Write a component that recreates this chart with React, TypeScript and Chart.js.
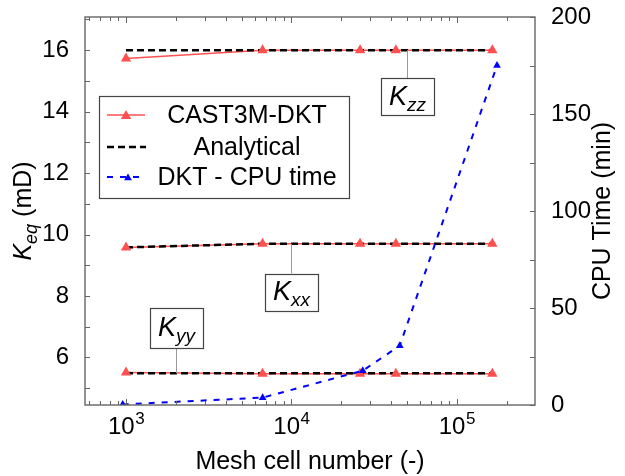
import React, { useEffect, useRef } from 'react';
import { Chart, registerables } from 'chart.js';

Chart.register(...registerables);

// ---------------- data ----------------
const meshCells = [1000, 6690, 26000, 42800, 164000];
const kzzCast3m = [15.73, 16.0, 16.0, 16.0, 16.0];
const kxxCast3m = [9.58, 9.7, 9.7, 9.7, 9.7];
const kyyCast3m = [5.51, 5.47, 5.47, 5.47, 5.47];
const kzzAnalytical = [16.0, 16.0, 16.0, 16.0, 16.0];
const kxxAnalytical = [9.58, 9.7, 9.7, 9.7, 9.7];
const kyyAnalytical = [5.48, 5.48, 5.48, 5.48, 5.48];
const cpuMeshCells = [955, 6700, 27000, 45200, 175000];
const cpuTimeMin = [0.3, 3.8, 17.7, 30.6, 175];

const keqTickLabels = [6, 8, 10, 12, 14, 16];
const cpuTickLabels = [0, 50, 100, 150, 200];
const meshDecades = [1000, 10000, 100000];

const legendLabels = ['CAST3M-DKT', 'Analytical', 'DKT - CPU time'];
const tagSubscripts = ['zz', 'xx', 'yy'];
const tagCells = [50000, 10000, 2000];
const tagKeq = [16, 9.7, 5.48];

// ---------------- styles ----------------
const FONT = "'Liberation Sans', Arial, sans-serif";
const RED = '#ff5050';
const BLUE = '#0000ff';
const FRAME = '#666666';

const pts = (xs: number[], ys: number[]) => xs.map((x, i) => ({ x, y: ys[i] }));

function triangle(ctx: CanvasRenderingContext2D, cx: number, cy: number, r: number, color: string) {
  ctx.beginPath();
  ctx.moveTo(cx, cy - r);
  ctx.lineTo(cx + r * 0.866, cy + r * 0.5);
  ctx.lineTo(cx - r * 0.866, cy + r * 0.5);
  ctx.closePath();
  ctx.fillStyle = color;
  ctx.fill();
}

function drawK(ctx: CanvasRenderingContext2D, x: number, y: number, sub: string, big: number, small: number, drop: number, tail = '') {
  ctx.font = `italic ${big}px ${FONT}`;
  const wK = ctx.measureText('K').width;
  ctx.font = `italic ${small}px ${FONT}`;
  const wS = ctx.measureText(sub).width;
  ctx.font = `${big}px ${FONT}`;
  const wT = tail ? ctx.measureText(tail).width : 0;
  const total = wK + wS + wT;
  let cx = x - total / 2;
  ctx.textAlign = 'left';
  ctx.textBaseline = 'alphabetic';
  ctx.fillStyle = '#000';
  ctx.font = `italic ${big}px ${FONT}`;
  ctx.fillText('K', cx, y);
  cx += wK;
  ctx.font = `italic ${small}px ${FONT}`;
  ctx.fillText(sub, cx, y + drop);
  cx += wS;
  if (tail) {
    ctx.font = `${big}px ${FONT}`;
    ctx.fillText(tail, cx, y);
  }
}

const decorPlugin = {
  id: 'decor',
  afterDraw(chart: any) {
    const ctx: CanvasRenderingContext2D = chart.ctx;
    const { left, right, top, bottom } = chart.chartArea;
    const xs = chart.scales.x;
    const ys = chart.scales.y;
    const y1 = chart.scales.y1;
    ctx.save();

    ctx.strokeStyle = FRAME;
    ctx.lineWidth = 1;
    const line = (a: number, b: number, c: number, d: number) => {
      ctx.beginPath();
      ctx.moveTo(a, b);
      ctx.lineTo(c, d);
      ctx.stroke();
    };
    xs.ticks.forEach((t: any) => {
      const px = Math.round(xs.getPixelForValue(t.value)) + 0.5;
      const len = t.major ? 6 : 4;
      line(px, bottom, px, bottom - len);
      line(px, top, px, top + len);
    });
    for (let v = Math.ceil(ys.min); v <= ys.max; v += 1) {
      const py = Math.round(ys.getPixelForValue(v)) + 0.5;
      line(left, py, left + 5, py);
    }
    for (let v = 0; v <= y1.max; v += 25) {
      const py = Math.round(y1.getPixelForValue(v)) + 0.5;
      line(right, py, right - 5, py);
    }

    ctx.lineWidth = 1.4;
    ctx.strokeRect(left, top, right - left, bottom - top);

    ctx.fillStyle = '#000';
    xs.ticks.filter((t: any) => t.major).forEach((t: any) => {
      const px = xs.getPixelForValue(t.value);
      const exp = String(Math.round(Math.log10(t.value)));
      ctx.font = `24px ${FONT}`;
      const wB = ctx.measureText('10').width;
      ctx.font = `17px ${FONT}`;
      const wE = ctx.measureText(exp).width;
      const x0 = px - (wB + wE) / 2;
      ctx.textAlign = 'left';
      ctx.textBaseline = 'alphabetic';
      ctx.font = `24px ${FONT}`;
      ctx.fillText('10', x0, bottom + 29);
      ctx.font = `17px ${FONT}`;
      ctx.fillText(exp, x0 + wB + 0.5, bottom + 19);
    });

    ctx.font = `25px ${FONT}`;
    ctx.textAlign = 'center';
    ctx.textBaseline = 'alphabetic';
    ctx.fillText('Mesh cell number (-)', (left + right) / 2, 469);

    ctx.save();
    ctx.translate(31, (top + bottom) / 2);
    ctx.rotate(-Math.PI / 2);
    drawK(ctx, 0, 0, 'eq', 25, 18, 6, ' (mD)');
    ctx.restore();

    ctx.save();
    ctx.translate(610, (top + bottom) / 2);
    ctx.rotate(-Math.PI / 2);
    ctx.font = `25px ${FONT}`;
    ctx.textAlign = 'center';
    ctx.fillStyle = '#000';
    ctx.fillText('CPU Time (min)', 0, 0);
    ctx.restore();

    tagSubscripts.forEach((sub, i) => {
      const ax = Math.round(xs.getPixelForValue(tagCells[i])) + 0.5;
      const ay = ys.getPixelForValue(tagKeq[i]);
      const below = i < 2;
      const w = 53;
      const h = i === 2 ? 40 : 37;
      const pin = i === 0 ? 28 : i === 1 ? 30 : 25;
      const boxTop = below ? ay + pin : ay - pin - h;
      ctx.strokeStyle = '#999';
      ctx.lineWidth = 1;
      ctx.beginPath();
      ctx.moveTo(ax, ay);
      ctx.lineTo(ax, below ? boxTop : boxTop + h);
      ctx.stroke();
      ctx.fillStyle = '#fff';
      ctx.fillRect(ax - w / 2, boxTop, w, h);
      ctx.strokeStyle = '#444';
      ctx.lineWidth = 1.2;
      ctx.strokeRect(Math.round(ax - w / 2) + 0.5, Math.round(boxTop) + 0.5, w, h);
      drawK(ctx, ax, boxTop + h / 2 + 8, sub, 27, 19, 6);
    });

    const lx = 99, ly = 96, lw = 250, lh = 102;
    ctx.fillStyle = '#fff';
    ctx.fillRect(lx, ly, lw, lh);
    ctx.strokeStyle = '#444';
    ctx.lineWidth = 1.2;
    ctx.strokeRect(lx + 0.5, ly + 0.5, lw, lh);
    const rows = [115, 147, 177];
    ctx.setLineDash([]);
    ctx.strokeStyle = RED;
    ctx.lineWidth = 1.5;
    line(107, rows[0], 145, rows[0]);
    triangle(ctx, 126, rows[0] + 1, 6, RED);
    ctx.strokeStyle = '#000';
    ctx.lineWidth = 2.5;
    ctx.setLineDash([7, 4]);
    line(107, rows[1], 146, rows[1]);
    ctx.strokeStyle = BLUE;
    ctx.lineWidth = 2;
    ctx.setLineDash([6, 7]);
    line(107, rows[2], 145, rows[2]);
    ctx.setLineDash([]);
    triangle(ctx, 128, rows[2] + 1, 4.5, BLUE);
    ctx.fillStyle = '#000';
    ctx.font = `25px ${FONT}`;
    ctx.textAlign = 'center';
    ctx.textBaseline = 'middle';
    legendLabels.forEach((lab, i) => ctx.fillText(lab, 247, rows[i] + 1));

    ctx.restore();
  },
};

const zeroPad = (s: any) => {
  s.paddingTop = 0;
  s.paddingBottom = 0;
  s.paddingLeft = 0;
  s.paddingRight = 0;
};

export default function App() {
  const ref = useRef<HTMLCanvasElement | null>(null);
  useEffect(() => {
    if (!ref.current) return;
    const castSeries = [kzzCast3m, kxxCast3m, kyyCast3m];
    const anaSeries = [kzzAnalytical, kxxAnalytical, kyyAnalytical];
    const chart = new Chart(ref.current, {
      type: 'line',
      data: {
        datasets: [
          {
            label: legendLabels[2],
            data: pts(cpuMeshCells, cpuTimeMin),
            yAxisID: 'y1',
            borderColor: BLUE,
            backgroundColor: BLUE,
            borderWidth: 2,
            borderDash: [6, 7],
            pointStyle: 'triangle',
            pointRadius: 4.5,
            pointBorderWidth: 0,
            order: 0,
          },
          ...castSeries.map((a) => ({
            label: legendLabels[0],
            data: pts(meshCells, a),
            yAxisID: 'y',
            showLine: false,
            pointStyle: 'triangle',
            pointRadius: 6,
            backgroundColor: RED,
            borderColor: RED,
            pointBorderWidth: 0,
            order: 1,
          })),
          ...anaSeries.map((a) => ({
            label: legendLabels[1],
            data: pts(meshCells, a),
            yAxisID: 'y',
            borderColor: '#000',
            borderWidth: 2.5,
            borderDash: [7, 4],
            pointRadius: 0,
            order: 2,
          })),
          ...castSeries.map((a) => ({
            label: legendLabels[0],
            data: pts(meshCells, a),
            yAxisID: 'y',
            borderColor: RED,
            borderWidth: 1.5,
            pointRadius: 0,
            order: 3,
          })),
        ] as any,
      },
      options: {
        animation: false,
        responsive: false,
        devicePixelRatio: 1,
        layout: { padding: { top: 17, left: 0, right: 0, bottom: 0 } },
        plugins: { legend: { display: false }, tooltip: { enabled: false } },
        elements: { line: { tension: 0 } },
        scales: {
          x: {
            type: 'logarithmic',
            min: 565,
            max: 297000,
            grid: { display: false },
            border: { display: false },
            ticks: { display: false },
            afterBuildTicks: (s: any) => {
              const ticks: any[] = [];
              for (let d = 100; d <= 1000000; d *= 10) {
                for (let m = 1; m <= 9; m++) {
                  const v = d * m;
                  if (v >= s.min && v <= s.max) ticks.push({ value: v, major: meshDecades.includes(v) });
                }
              }
              s.ticks = ticks;
            },
            afterFit: (s: any) => {
              s.height = 71;
              zeroPad(s);
            },
          },
          y: {
            type: 'linear',
            position: 'left',
            min: 4.45,
            max: 17.08,
            grid: { display: false },
            border: { display: false },
            ticks: { color: '#000', font: { family: FONT, size: 24 }, padding: 8 },
            afterBuildTicks: (s: any) => {
              s.ticks = keqTickLabels.map((v) => ({ value: v }));
            },
            afterFit: (s: any) => {
              s.width = 85;
              zeroPad(s);
            },
          },
          y1: {
            type: 'linear',
            position: 'right',
            min: 0,
            max: 200,
            grid: { display: false },
            border: { display: false },
            ticks: { color: '#000', font: { family: FONT, size: 24 }, padding: 8 },
            afterBuildTicks: (s: any) => {
              s.ticks = cpuTickLabels.map((v) => ({ value: v }));
            },
            afterFit: (s: any) => {
              s.width = 90;
              zeroPad(s);
            },
          },
        },
      } as any,
      plugins: [decorPlugin],
    });
    return () => chart.destroy();
  }, []);
  return (
    <div style={{ position: 'absolute', left: 0, top: 0, width: 625, height: 476, background: '#fff' }}>
      <canvas ref={ref} width={625} height={476} />
    </div>
  );
}
